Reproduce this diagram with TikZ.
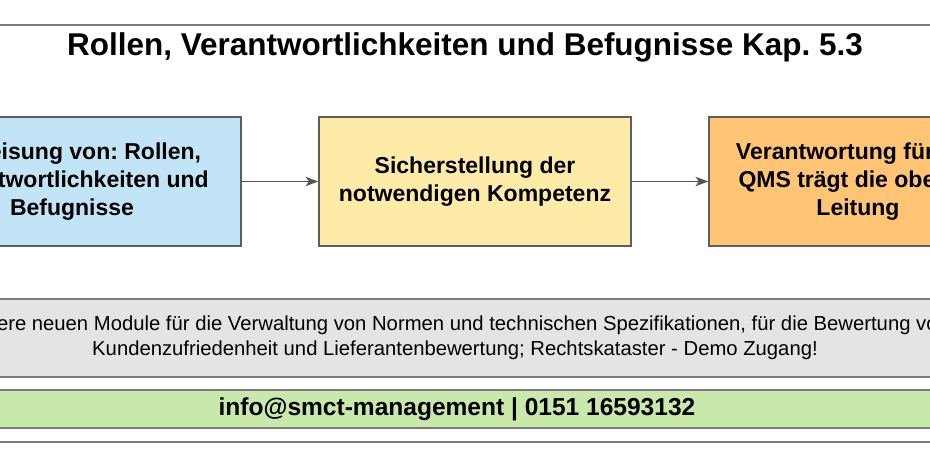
\documentclass[tikz,border=0pt]{standalone}
\usepackage{fontspec}
\setmainfont{Liberation Sans}
\usetikzlibrary{arrows.meta, positioning}
\frenchspacing

\definecolor{boxblue}{HTML}{C2E4F7}
\definecolor{boxyellow}{HTML}{FFEBA8}
\definecolor{boxorange}{HTML}{FFC474}
\definecolor{bargray}{HTML}{E4E4E4}
\definecolor{bargreen}{HTML}{C8E8AC}
\definecolor{framegray}{HTML}{5F5F5F}
\definecolor{linegray}{HTML}{7A7A7A}
\definecolor{arrowgray}{HTML}{555555}

\begin{document}
\begin{tikzpicture}[x=0.75pt, y=-0.75pt,
      stepbox/.style = {draw=framegray, line width=1.1pt, align=center,
        minimum height=96.75pt, inner sep=0pt,
        font=\fontsize{17.25}{20.7}\selectfont\bfseries},
      bar/.style = {draw=linegray, line width=1.5pt, align=center,
        minimum width=900pt, inner sep=0pt},
      flow/.style = {draw=arrowgray, line width=1.2pt,
        -{Stealth[length=9.5pt, width=7pt, inset=2.5pt]}}]
      \useasboundingbox (0,0) rectangle (930,468);
      \clip (0,0) rectangle (930,468);

      \draw[linegray, line width=1.2pt] (-10,25) -- (940,25);
      \draw[linegray, line width=1.2pt] (-10,442) -- (940,442);

      \node[anchor=base, font=\fontsize{23.6}{28}\selectfont\bfseries] (titel) at (465,55)
        {Rollen, Verantwortlichkeiten und Befugnisse Kap. 5.3};

      \node[stepbox, fill=boxblue, minimum width=253.5pt] (zuweisung) at (72,181.5)
        {Zuweisung von: Rollen,\\Verantwortlichkeiten und\\Befugnisse};
      \node[stepbox, fill=boxyellow, minimum width=234pt] (kompetenz) at (475,181.5)
        {Sicherstellung der\\notwendigen Kompetenz};
      \node[stepbox, fill=boxorange, minimum width=223.5pt] (leitung) at (858,181.5)
        {Verantwortung für das\\QMS trägt die oberste\\Leitung};

      \draw[flow] (zuweisung) -- (kompetenz);
      \draw[flow] (kompetenz) -- (leitung);

      \node[bar, fill=bargray, minimum height=58.5pt,
        font=\fontsize{15.2}{18.5}\selectfont] (module) at (455,338)
        {Unsere neuen Module für die Verwaltung von Normen und technischen Spezifikationen, für die Bewertung von\\
         Kundenzufriedenheit und Lieferantenbewertung; Rechtskataster - Demo Zugang!};
      \node[bar, fill=bargreen, minimum height=28.5pt,
        font=\fontsize{18.4}{22}\selectfont\bfseries] (kontakt) at (457,409)
        {info@smct-management | 0151 16593132};
\end{tikzpicture}
\end{document}
